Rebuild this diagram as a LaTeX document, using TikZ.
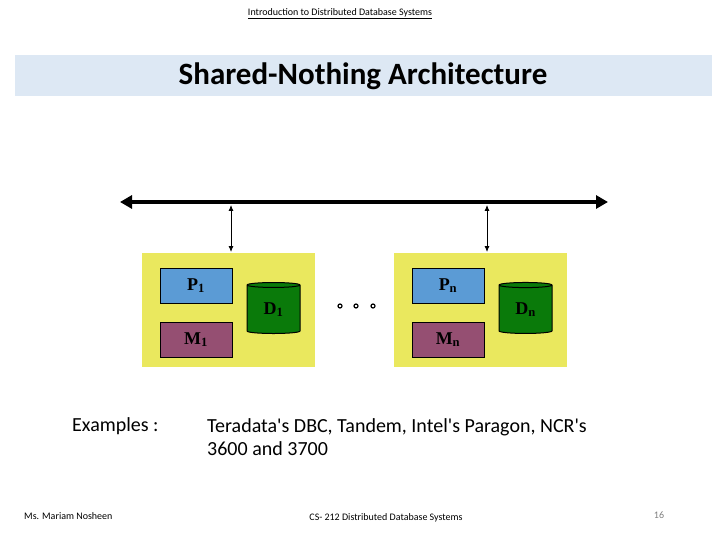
\documentclass[tikz,border=0pt]{standalone}
\usepackage{fontspec}
\setmainfont{Carlito}[Ligatures=TeXOff]
\usetikzlibrary{shapes.geometric,arrows.meta}
\definecolor{band}{HTML}{DDE8F4}
\definecolor{ybox}{HTML}{EAE85E}
\definecolor{pblue}{HTML}{5B9BD5}
\definecolor{mpurp}{HTML}{954F72}
\definecolor{dgreen}{HTML}{0A7A0A}
\tikzset{
 node/.style={fill=ybox,draw=none,minimum width=173pt,minimum height=114pt,inner sep=0pt},
 pbox/.style={draw=black,line width=1pt,fill=pblue,minimum width=72pt,minimum height=35pt,inner sep=0pt,font=\fontspec{Liberation Serif}\bfseries\fontsize{18}{20}\selectfont},
 mbox/.style={pbox,fill=mpurp},
 disk/.style={cylinder,shape border rotate=90,aspect=0.25,draw=black,line width=1pt,fill=dgreen,minimum width=53pt,minimum height=51pt,inner sep=0pt,font=\fontspec{Liberation Serif}\bfseries\fontsize{18}{20}\selectfont},
 link/.style={{Latex[length=6pt,width=5pt]}-{Latex[length=6pt,width=5pt]},line width=0.8pt},
 txt/.style={inner sep=0pt,anchor=west,font=\fontsize{20}{23}\selectfont,align=left},
 small/.style={inner sep=0pt,font=\fontsize{10}{12}\selectfont}
}
\begin{document}
\begin{tikzpicture}[x=1pt,y=-1pt]
\useasboundingbox (0,0) rectangle (720,540);
\node[small] (hdr) at (340,14) {\underline{Introduction to Distributed Database Systems}};
\fill[band] (15,55) rectangle (712,96);
\node[inner sep=0pt,font=\bfseries\fontsize{31}{34}\selectfont] (title) at (363,76) {Shared-Nothing Architecture};
\coordinate (bl) at (120,202); \coordinate (br) at (608,202);
\draw[line width=4pt,-{Triangle[length=12pt,width=13pt]}] (364,202) -- (br);
\draw[line width=4pt,-{Triangle[length=12pt,width=13pt]}] (364,202) -- (bl);
\node[node] (n1) at (228.5,310) {};
\node[node] (n2) at (480.5,310) {};
\node[pbox] (p1) at (196,285.5) {P\textsubscript{1}};
\node[mbox] (m1) at (196,339.5) {M\textsubscript{1}};
\node[disk] (d1) at (273.5,309.5) {D\textsubscript{1}};
\node[pbox] (pn) at (448,285.5) {P\textsubscript{n}};
\node[mbox] (mn) at (448,339.5) {M\textsubscript{n}};
\node[disk] (dn) at (525.5,309.5) {D\textsubscript{n}};
\coordinate (t1) at (231,205); \coordinate (t2) at (487,205);
\draw[link] (t1) -- (231,252);
\draw[link] (t2) -- (487,252);
\foreach \x in {340,356,373} \draw[line width=1.2pt] (\x,306) circle (2pt);
\node[txt] (ex) at (72,426) {Examples :};
\node[txt] (sys) at (207,437) {Teradata's DBC, Tandem, Intel's Paragon, NCR's\\3600 and 3700};
\node[small,anchor=west] (auth) at (24,516) {Ms. Mariam Nosheen};
\node[small] (course) at (386,518) {CS- 212 Distributed Database Systems};
\node[small,gray] (pg) at (659,515) {16};
\end{tikzpicture}
\end{document}
